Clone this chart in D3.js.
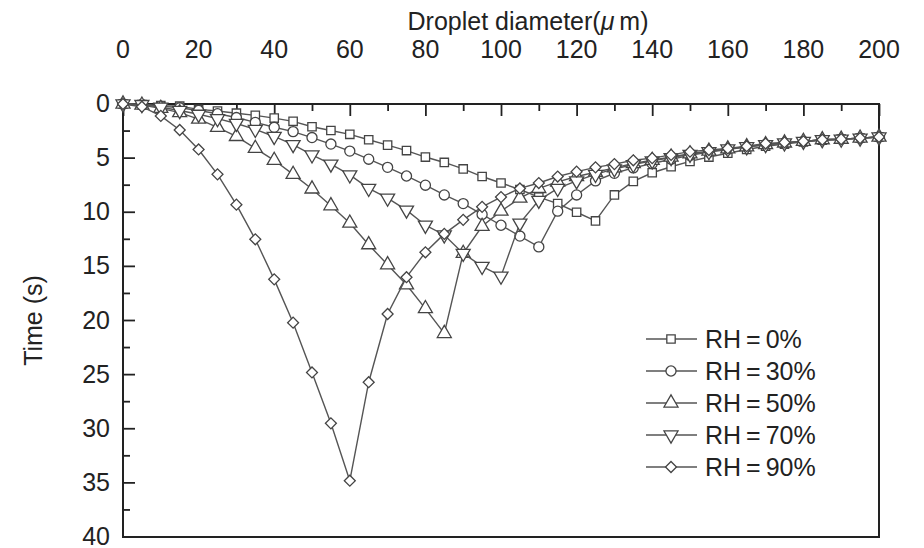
<!DOCTYPE html>
<html>
<head>
<meta charset="utf-8">
<script src="https://cdn.jsdelivr.net/npm/d3@7"></script>
<style>
  html, body { margin: 0; padding: 0; background: #fff; }
  svg { display: block; font-family: "Liberation Sans", Arial, Helvetica, sans-serif; }
</style>
</head>
<body>
<svg id="chart" width="924" height="548"></svg>
<script>
// Droplet diameter (um) -> time (s), one array per relative humidity
const diameters = [0, 5, 10, 15, 20, 25, 30, 35, 40, 45, 50, 55, 60, 65, 70, 75, 80, 85, 90, 95, 100,
    105, 110, 115, 120, 125, 130, 135, 140, 145, 150, 155, 160, 165, 170, 175, 180, 185, 190, 195, 200];

const rh0 = [0, 0.05, 0.15, 0.2, 0.5, 0.65, 0.85, 1.05, 1.3, 1.6, 2.1, 2.45, 2.8, 3.3, 3.8, 4.3, 4.9, 5.4, 6.0, 6.7, 7.3,
    7.9, 8.6, 9.2, 10.0, 10.8, 8.4, 7.15, 6.35, 5.8, 5.3, 4.9, 4.55, 4.2, 3.9, 3.7, 3.5, 3.35, 3.25, 3.15, 3.05];
const rh30 = [0, 0.05, 0.2, 0.35, 0.6, 0.9, 1.25, 1.7, 2.15, 2.55, 3.1, 3.7, 4.35, 5.1, 5.85, 6.65, 7.5, 8.4, 9.2, 10.2, 11.2,
    12.2, 13.2, 9.9, 8.4, 7.1, 6.4, 5.9, 5.5, 5.1, 4.75, 4.45, 4.2, 3.95, 3.75, 3.6, 3.45, 3.3, 3.25, 3.15, 3.05];
const rh50 = [0, 0.1, 0.4, 0.8, 1.4, 2.15, 3.0, 4.1, 5.2, 6.5, 7.85, 9.4, 11.0, 13.0, 14.85, 16.7, 18.9, 21.2, 13.8, 11.3, 9.9,
    8.7, 7.8, 7.2, 6.7, 6.3, 5.9, 5.5, 5.2, 4.9, 4.6, 4.35, 4.15, 3.95, 3.75, 3.6, 3.45, 3.3, 3.25, 3.15, 3.05];
const rh70 = [0, 0.05, 0.3, 0.6, 0.95, 1.35, 1.8, 2.35, 3.0, 3.75, 4.7, 5.55, 6.55, 7.8, 8.7, 9.8, 11.2, 12.1, 13.8, 15.0, 15.9,
    11.0, 8.9, 7.8, 7.1, 6.5, 6.0, 5.6, 5.25, 4.95, 4.65, 4.4, 4.15, 3.95, 3.75, 3.6, 3.45, 3.3, 3.25, 3.15, 3.05];
const rh90 = [0, 0.25, 1.1, 2.4, 4.2, 6.5, 9.3, 12.5, 16.2, 20.2, 24.8, 29.5, 34.8, 25.7, 19.4, 16.0, 13.7, 12.0, 10.7, 9.5, 8.6,
    7.8, 7.3, 6.7, 6.25, 5.85, 5.55, 5.2, 5.0, 4.7, 4.4, 4.25, 4.1, 3.9, 3.65, 3.55, 3.45, 3.3, 3.25, 3.15, 3.05];

const seriesNames = ['RH=0%', 'RH=30%', 'RH=50%', 'RH=70%', 'RH=90%'];
const seriesValues = [rh0, rh30, rh50, rh70, rh90];
const seriesMarkers = ['square', 'circle', 'triangleUp', 'triangleDown', 'diamond'];

const xTicks = [0, 20, 40, 60, 80, 100, 120, 140, 160, 180, 200];
const yTicks = [0, 5, 10, 15, 20, 25, 30, 35, 40];

(function() {
    const svg = d3.select('#chart');
    const left = 123, right = 879, top = 104, bottom = 537;
    const ink = '#222';
    const lineColor = '#555';

    const x = d3.scaleLinear().domain([0, 200]).range([left, right]);
    const y = d3.scaleLinear().domain([0, 40]).range([top, bottom]);

    // marker shapes
    function markerPath(kind) {
        if (kind === 'square') return d3.symbol(d3.symbolSquare, 70)();
        if (kind === 'circle') return d3.symbol(d3.symbolCircle, 80)();
        if (kind === 'diamond') return d3.symbol(d3.symbolSquare, 60)();
        return d3.symbol(d3.symbolTriangle, 85)();
    }
    function markerRotate(kind) {
        if (kind === 'diamond') return 45;
        if (kind === 'triangleDown') return 180;
        return 0;
    }

    // axes: ticks point inward
    const topAxis = d3.axisTop(x).tickValues(d3.range(0, 201, 10)).tickSize(0).tickFormat('');
    const gTop = svg.append('g').attr('transform', 'translate(0,' + top + ')').call(topAxis);
    gTop.select('.domain').remove();
    gTop.selectAll('.tick line').remove();
    gTop.selectAll('.tick').append('line')
        .attr('y1', 0)
        .attr('y2', d => (d % 20 === 0 ? 12 : 7))
        .attr('stroke', ink).attr('stroke-width', 1.8);

    svg.append('g').selectAll('text').data(xTicks).enter().append('text')
        .attr('x', d => x(d)).attr('y', 58)
        .attr('text-anchor', 'middle')
        .attr('font-size', 25).attr('fill', ink)
        .text(d => d);

    const gLeft = svg.append('g');
    gLeft.selectAll('line').data(d3.range(0, 40.1, 2.5)).enter().append('line')
        .attr('x1', left).attr('x2', d => left + (d % 5 === 0 ? 12 : 7))
        .attr('y1', d => y(d)).attr('y2', d => y(d))
        .attr('stroke', ink).attr('stroke-width', 1.8);

    svg.append('g').selectAll('text').data(yTicks).enter().append('text')
        .attr('x', 110).attr('y', d => y(d) + 8)
        .attr('text-anchor', 'end')
        .attr('font-size', 25).attr('fill', ink)
        .text(d => d);

    // frame
    svg.append('rect')
        .attr('x', left).attr('y', top)
        .attr('width', right - left).attr('height', bottom - top)
        .attr('fill', 'none').attr('stroke', ink).attr('stroke-width', 2);

    // titles
    const title = svg.append('text')
        .attr('x', 528).attr('y', 30)
        .attr('text-anchor', 'middle')
        .attr('font-size', 25).attr('fill', ink);
    title.append('tspan').text('Droplet diameter(');
    title.append('tspan').attr('font-style', 'italic').text('\u03bc');
    title.append('tspan').text('\u2009m)');

    svg.append('text')
        .attr('transform', 'translate(42,' + ((top + bottom) / 2) + ') rotate(-90)')
        .attr('text-anchor', 'middle')
        .attr('font-size', 25).attr('fill', ink)
        .text('Time (s)');

    // series
    const line = d3.line().x(d => x(d[0])).y(d => y(d[1]));
    seriesValues.forEach((vals, i) => {
        const pts = diameters.map((d, j) => [d, vals[j]]);
        const g = svg.append('g');
        g.append('path')
            .attr('d', line(pts))
            .attr('fill', 'none').attr('stroke', lineColor).attr('stroke-width', 1.4);
        g.selectAll('path.m').data(pts).enter().append('path')
            .attr('class', 'm')
            .attr('d', markerPath(seriesMarkers[i]))
            .attr('transform', d => 'translate(' + x(d[0]) + ',' + y(d[1]) + ') rotate(' + markerRotate(seriesMarkers[i]) + ')')
            .attr('fill', '#fff').attr('stroke', '#444').attr('stroke-width', 1.3);
    });

    // legend
    const legend = svg.append('g');
    seriesNames.forEach((name, i) => {
        const ly = 339 + i * 32;
        legend.append('line')
            .attr('x1', 646).attr('x2', 697).attr('y1', ly).attr('y2', ly)
            .attr('stroke', lineColor).attr('stroke-width', 1.4);
        legend.append('path')
            .attr('d', markerPath(seriesMarkers[i]))
            .attr('transform', 'translate(671,' + ly + ') rotate(' + markerRotate(seriesMarkers[i]) + ')')
            .attr('fill', '#fff').attr('stroke', '#444').attr('stroke-width', 1.3);
        legend.append('text')
            .attr('x', 705).attr('y', ly + 9)
            .attr('font-size', 25).attr('fill', ink)
            .text(name.replace('=', '\u2009=\u2009'));
    });
})();
</script>
</body>
</html>
